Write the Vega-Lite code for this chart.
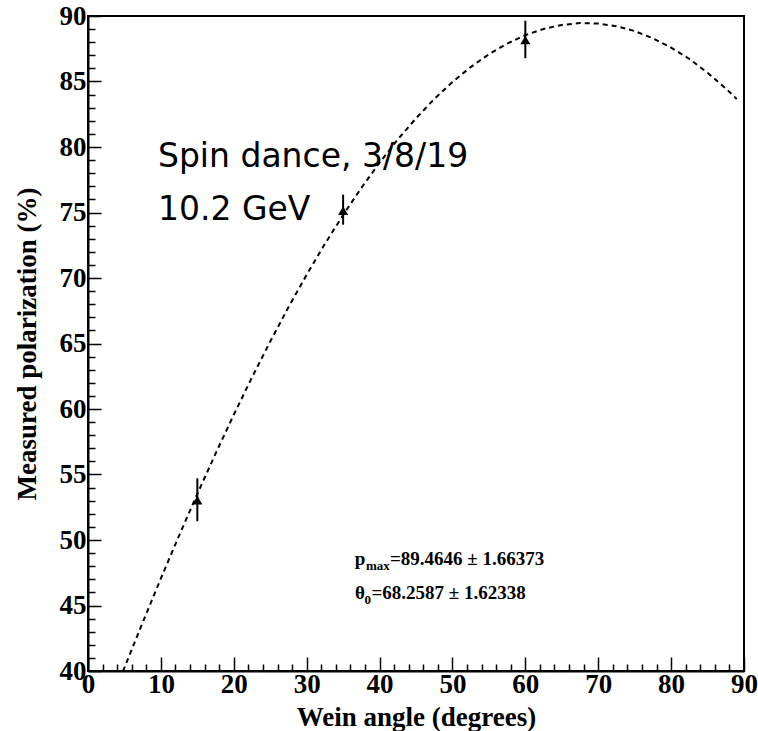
{
  "$schema": "https://vega.github.io/schema/vega-lite/v6.json",
  "width": 656,
  "height": 655,
  "autosize": {"type": "none"},
  "padding": {"left": 88, "top": 16, "right": 14, "bottom": 60},
  "background": "white",
  "config": {
    "view": {"stroke": "black", "strokeWidth": 2},
    "axis": {"grid": false}
  },
  "datasets": {
    "curve": [
      {"theta": 4.8, "p": 39.98},
      {"theta": 5, "p": 40.26},
      {"theta": 7.5, "p": 43.70},
      {"theta": 10, "p": 47.07},
      {"theta": 12.5, "p": 50.34},
      {"theta": 15, "p": 53.52},
      {"theta": 17.5, "p": 56.59},
      {"theta": 20, "p": 59.56},
      {"theta": 22.5, "p": 62.42},
      {"theta": 25, "p": 65.15},
      {"theta": 27.5, "p": 67.77},
      {"theta": 30, "p": 70.25},
      {"theta": 32.5, "p": 72.60},
      {"theta": 35, "p": 74.81},
      {"theta": 37.5, "p": 76.88},
      {"theta": 40, "p": 78.80},
      {"theta": 42.5, "p": 80.58},
      {"theta": 45, "p": 82.19},
      {"theta": 47.5, "p": 83.66},
      {"theta": 50, "p": 84.96},
      {"theta": 52.5, "p": 86.10},
      {"theta": 55, "p": 87.08},
      {"theta": 57.5, "p": 87.89},
      {"theta": 60, "p": 88.54},
      {"theta": 62.5, "p": 89.01},
      {"theta": 65, "p": 89.32},
      {"theta": 67.5, "p": 89.46},
      {"theta": 70, "p": 89.42},
      {"theta": 72.5, "p": 89.22},
      {"theta": 75, "p": 88.85},
      {"theta": 77.5, "p": 88.30},
      {"theta": 80, "p": 87.59},
      {"theta": 82.5, "p": 86.72},
      {"theta": 85, "p": 85.67},
      {"theta": 87.5, "p": 84.47},
      {"theta": 89, "p": 83.67}
    ],
    "points": [
      {"theta": 15, "p": 53.05, "lo": 51.43, "hi": 54.71},
      {"theta": 35, "p": 75.14, "lo": 74.07, "hi": 76.36},
      {"theta": 60, "p": 88.17, "lo": 86.78, "hi": 89.64}
    ],
    "notes": [
      {"theta": 9.6, "p": 78.47, "text": "Spin dance, 3/8/19"},
      {"theta": 9.6, "p": 74.43, "text": "10.2 GeV"}
    ],
    "fitMain": [
      {"theta": 36.6, "p": 48.09, "text": "p"},
      {"theta": 41.43, "p": 48.09, "text": "=89.4646 ± 1.66373"},
      {"theta": 36.63, "p": 45.5, "text": "θ"},
      {"theta": 38.9, "p": 45.5, "text": "=68.2587 ± 1.62338"}
    ],
    "fitSub": [
      {"theta": 38.14, "p": 47.71, "text": "max"},
      {"theta": 37.93, "p": 45.12, "text": "0"}
    ]
  },
  "layer": [
    {
      "data": {"name": "curve"},
      "mark": {"type": "line", "color": "black", "strokeWidth": 2, "strokeDash": [5, 4], "clip": true},
      "encoding": {
        "x": {
          "field": "theta", "type": "quantitative",
          "scale": {"domain": [0, 90], "nice": false, "zero": false},
          "axis": {
            "title": "Wein angle (degrees)",
            "values": [0,2,4,6,8,10,12,14,16,18,20,22,24,26,28,30,32,34,36,38,40,42,44,46,48,50,52,54,56,58,60,62,64,66,68,70,72,74,76,78,80,82,84,86,88,90],
            "tickCount": 500,
            "format": "d",
            "labelExpr": "datum.value % 10 === 0 ? datum.label : ''",
            "tickSize": {"condition": {"test": "datum.value % 10 === 0", "value": -14}, "value": -7},
            "tickWidth": 1.5, "tickColor": "black",
            "domainColor": "black", "domainWidth": 2,
            "labelFont": "Liberation Serif", "labelFontWeight": "bold", "labelFontSize": 27, "labelColor": "black",
            "labelPadding": 14, "labelFlush": false, "labelOverlap": false, "labelBound": false,
            "titleFont": "Liberation Serif", "titleFontWeight": "bold", "titleFontSize": 27, "titleColor": "black",
            "titlePadding": 0
          }
        },
        "y": {
          "field": "p", "type": "quantitative",
          "scale": {"domain": [40, 90], "nice": false, "zero": false},
          "axis": {
            "title": "Measured polarization (%)",
            "values": [40,41,42,43,44,45,46,47,48,49,50,51,52,53,54,55,56,57,58,59,60,61,62,63,64,65,66,67,68,69,70,71,72,73,74,75,76,77,78,79,80,81,82,83,84,85,86,87,88,89,90],
            "tickCount": 500,
            "format": "d",
            "labelExpr": "datum.value % 5 === 0 ? datum.label : ''",
            "tickSize": {"condition": {"test": "datum.value % 5 === 0", "value": -13}, "value": -7},
            "tickWidth": 1.5, "tickColor": "black",
            "domainColor": "black", "domainWidth": 2,
            "labelFont": "Liberation Serif", "labelFontWeight": "bold", "labelFontSize": 27, "labelColor": "black",
            "labelPadding": 15, "labelFlush": false, "labelOverlap": false, "labelBound": false,
            "titleFont": "Liberation Serif", "titleFontWeight": "bold", "titleFontSize": 27, "titleColor": "black",
            "titlePadding": 18
          }
        }
      }
    },
    {
      "data": {"name": "points"},
      "mark": {"type": "rule", "color": "black", "strokeWidth": 2},
      "encoding": {
        "x": {"field": "theta", "type": "quantitative"},
        "y": {"field": "lo", "type": "quantitative"},
        "y2": {"field": "hi"}
      }
    },
    {
      "data": {"name": "points"},
      "mark": {"type": "point", "shape": "triangle-up", "filled": true, "color": "black", "size": 100, "opacity": 1},
      "encoding": {
        "x": {"field": "theta", "type": "quantitative"},
        "y": {"field": "p", "type": "quantitative"}
      }
    },
    {
      "data": {"name": "notes"},
      "mark": {"type": "text", "font": "DejaVu Sans", "fontSize": 33, "align": "left", "baseline": "alphabetic", "color": "black"},
      "encoding": {
        "x": {"field": "theta", "type": "quantitative"},
        "y": {"field": "p", "type": "quantitative"},
        "text": {"field": "text"}
      }
    },
    {
      "data": {"name": "fitMain"},
      "mark": {"type": "text", "font": "Liberation Serif", "fontWeight": "bold", "fontSize": 19, "align": "left", "baseline": "alphabetic", "color": "black"},
      "encoding": {
        "x": {"field": "theta", "type": "quantitative"},
        "y": {"field": "p", "type": "quantitative"},
        "text": {"field": "text"}
      }
    },
    {
      "data": {"name": "fitSub"},
      "mark": {"type": "text", "font": "Liberation Serif", "fontWeight": "bold", "fontSize": 13, "align": "left", "baseline": "alphabetic", "color": "black"},
      "encoding": {
        "x": {"field": "theta", "type": "quantitative"},
        "y": {"field": "p", "type": "quantitative"},
        "text": {"field": "text"}
      }
    }
  ]
}
